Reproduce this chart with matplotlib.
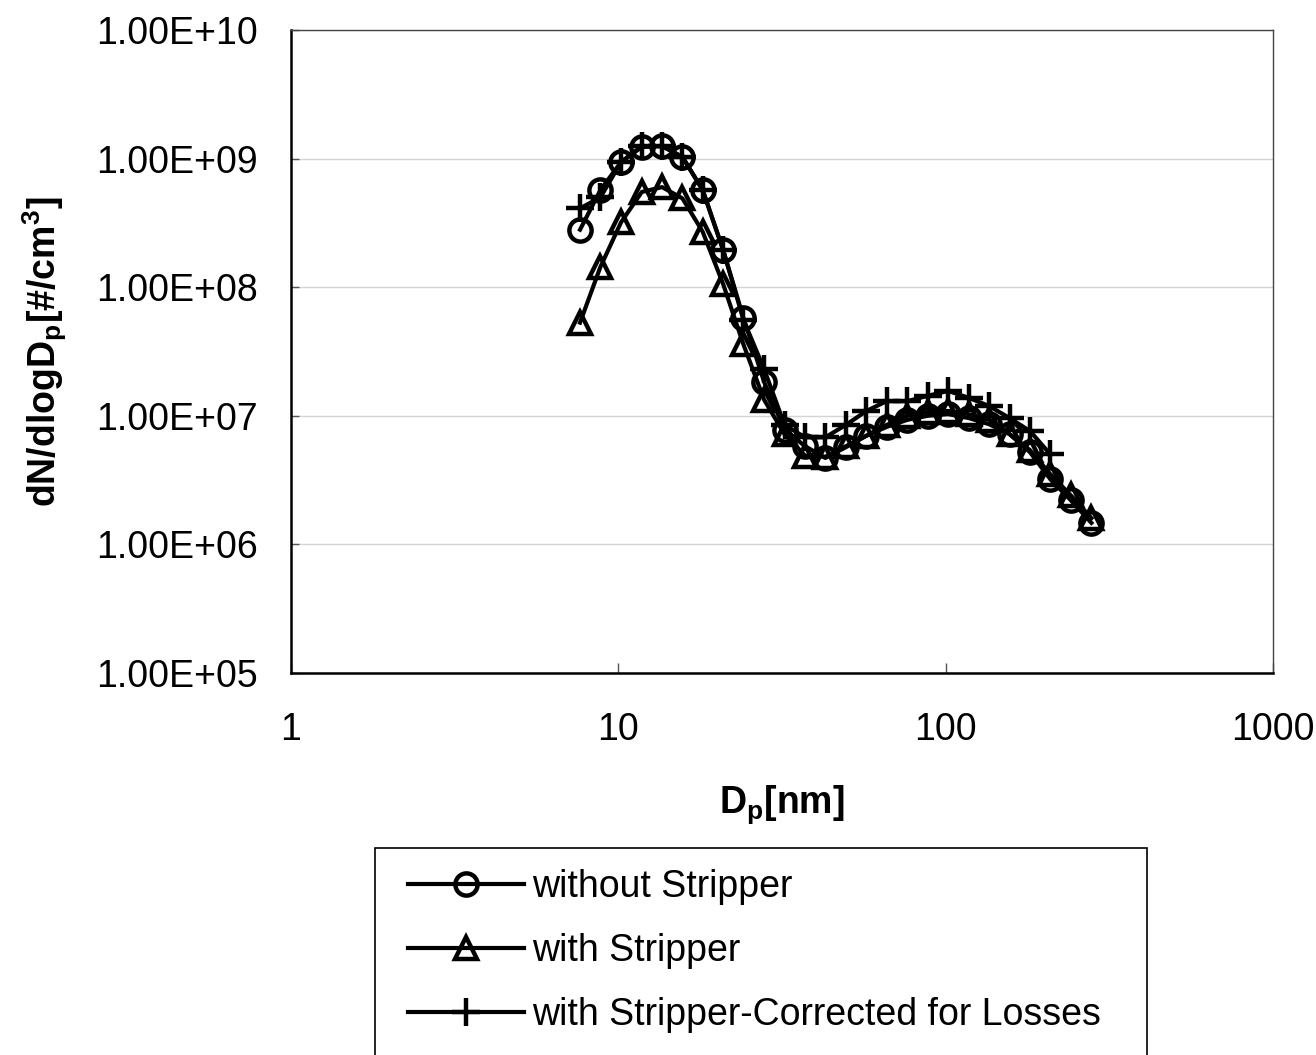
# Particle size distribution, with and without the stripper
import matplotlib
matplotlib.use("Agg")
import matplotlib.pyplot as plt
from matplotlib.patches import Rectangle

plt.rcParams['font.family'] = ['Liberation Sans', 'DejaVu Sans']
plt.rcParams['mathtext.fontset'] = 'custom'
plt.rcParams['mathtext.rm'] = 'Liberation Sans'
plt.rcParams['mathtext.bf'] = 'Liberation Sans:bold'

# mobility diameter [nm]
dp = [7.64, 8.82, 10.2, 11.8, 13.6, 15.7, 18.1, 20.9, 24.1, 27.9, 32.2, 37.2, 42.9,
      49.6, 57.3, 66.1, 76.4, 88.2, 101.8, 117.6, 135.8, 156.8, 181.1, 209.1, 241.4, 278.8]

# dN/dlogDp [#/cm3]
no_stripper = [2.8e8, 5.7e8, 9.4e8, 1.23e9, 1.25e9, 1.03e9, 5.7e8, 1.95e8, 5.8e7, 1.83e7,
               7.8e6, 5.8e6, 4.7e6, 5.7e6, 7.0e6, 8.2e6, 9.3e6, 1.0e7, 1.03e7, 9.6e6,
               8.6e6, 7.2e6, 5.2e6, 3.2e6, 2.2e6, 1.47e6]
with_stripper = [5.3e7, 1.44e8, 3.2e8, 5.5e8, 6.0e8, 4.9e8, 2.7e8, 1.06e8, 3.6e7, 1.33e7,
                 7.2e6, 4.9e6, 4.8e6, 5.8e6, 7.0e6, 8.5e6, 1.0e7, 1.07e7, 1.09e7, 1.03e7,
                 9.3e6, 7.2e6, 5.4e6, 3.5e6, 2.4e6, 1.6e6]
dp_corr = dp[:24]
corrected = [4.1e8, 5.0e8, 9.4e8, 1.25e9, 1.25e9, 1.03e9, 5.7e8, 1.95e8, 5.6e7, 2.3e7,
             8.5e6, 6.8e6, 6.8e6, 8.5e6, 1.09e7, 1.3e7, 1.3e7, 1.43e7, 1.56e7, 1.38e7,
             1.19e7, 9.6e6, 7.6e6, 5.0e6]

labels = ["without Stripper", "with Stripper", "with Stripper-Corrected for Losses"]
y_ticks = [1e5, 1e6, 1e7, 1e8, 1e9, 1e10]
x_ticks = [1, 10, 100, 1000]
x_tick_labels = ["1", "10", "100", "1000"]

fig = plt.figure(figsize=(13.16, 10.55), dpi=100)
ax = fig.add_axes([0.2211, 0.3621, 0.7462, 0.6095])

ax.plot(dp, no_stripper, color='black', lw=3, marker='o', ms=16, mew=3.2,
        mfc='none', label=labels[0])
ax.plot(dp, with_stripper, color='black', lw=3, marker='^', ms=16, mew=3.2,
        mfc='none', label=labels[1])
ax.plot(dp_corr, corrected, color='black', lw=3, marker='+', ms=20, mew=3.2,
        label=labels[2])

ax.set_xscale('log')
ax.set_yscale('log')
ax.set_xlim(1, 1000)
ax.set_ylim(1e5, 1e10)
ax.minorticks_off()

ax.set_yticks(y_ticks)
ax.set_yticklabels([f"{v:.2E}" for v in y_ticks])
ax.set_xticks(x_ticks)
ax.set_xticklabels(x_tick_labels)
ax.tick_params(axis='y', direction='in', length=6, width=1, color='#555555',
               labelsize=27, pad=24)
ax.tick_params(axis='x', direction='in', length=7, width=1, color='#555555',
               labelsize=27, pad=28)

ax.yaxis.grid(True, color='#d4d4d4', lw=1)
ax.set_axisbelow(True)

for s in ['left', 'bottom']:
    ax.spines[s].set_color('black')
    ax.spines[s].set_linewidth(1.8)
for s in ['top', 'right']:
    ax.spines[s].set_color('#444444')
    ax.spines[s].set_linewidth(1.0)

ax.set_ylabel(r"dN/dlogD$_\mathbf{p}$[#/cm$^\mathbf{3}$]", fontsize=27, fontweight='bold')
ax.yaxis.set_label_coords(-0.226, 0.5)
ax.set_xlabel(r"D$_\mathbf{p}$[nm]", fontsize=27, fontweight='bold')
ax.xaxis.set_label_coords(0.5, -0.172)

# legend box below the axes (runs off the bottom edge, as in the original)
fig.patches.append(Rectangle((375 / 1316, -0.01), (1147 - 375) / 1316, 0.01 + (1055 - 848) / 1055,
                             transform=fig.transFigure, fill=False, ec='black', lw=1.2))
leg = fig.legend(loc='upper left', bbox_to_anchor=(408 / 1316, 1 - 869 / 1055),
                 frameon=False, fontsize=27, handlelength=3.1, handletextpad=0.2,
                 labelspacing=0.75, borderpad=0, borderaxespad=0)

fig.savefig("out.png", dpi=100)
